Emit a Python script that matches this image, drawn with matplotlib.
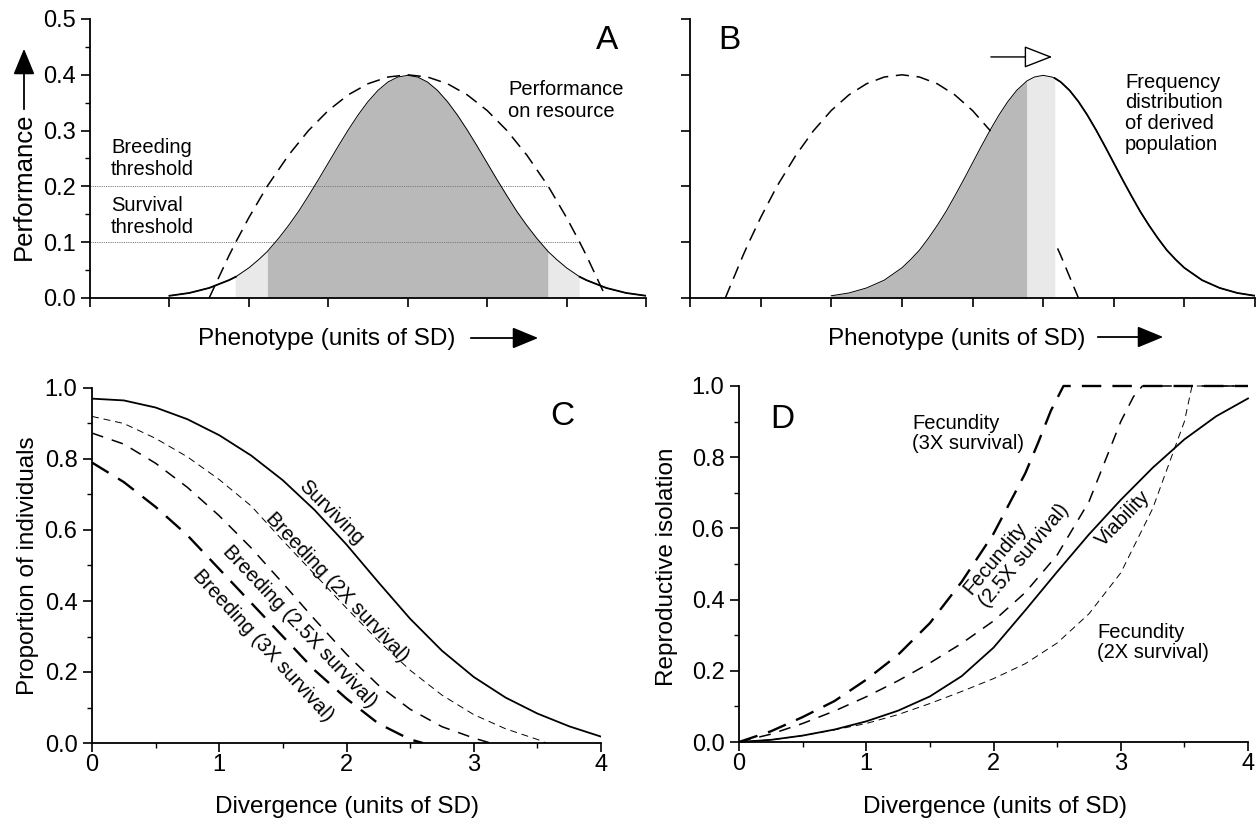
import numpy as np
import matplotlib
matplotlib.use("Agg")
import matplotlib.pyplot as plt
from matplotlib.ticker import MultipleLocator, FormatStrFormatter, NullFormatter
from matplotlib.patches import FancyArrowPatch

plt.rcParams['font.family'] = ['Liberation Sans', 'DejaVu Sans']
plt.rcParams['lines.scale_dashes'] = False

# ---- panels A and B : phenotype (units of SD) ----
phen = [-3, -2.75, -2.5, -2.25, -2.165, -2, -1.875, -1.77, -1.625, -1.5, -1.375, -1.25, -1.125, -1,
        -0.875, -0.75, -0.625, -0.5, -0.375, -0.25, -0.125, 0, 0.125, 0.25, 0.375, 0.5, 0.625, 0.75,
        0.875, 1, 1.125, 1.25, 1.375, 1.5, 1.625, 1.77, 1.875, 2, 2.165, 2.25, 2.5, 2.75, 3]
freq = [0.004, 0.009, 0.018, 0.032, 0.038, 0.054, 0.069, 0.083, 0.107, 0.130, 0.155, 0.183, 0.212, 0.242,
        0.272, 0.301, 0.328, 0.352, 0.372, 0.387, 0.396, 0.399, 0.396, 0.387, 0.372, 0.352, 0.328, 0.301,
        0.272, 0.242, 0.212, 0.183, 0.155, 0.130, 0.107, 0.083, 0.069, 0.054, 0.038, 0.032, 0.018, 0.009, 0.004]
perf_x = [-2.5, -2.25, -2.165, -2, -1.77, -1.5, -1.25, -1, -0.75, -0.5, -0.25, 0,
          0.25, 0.5, 0.75, 1, 1.25, 1.5, 1.77, 2, 2.165, 2.25, 2.5]
perf = [0, 0.076, 0.1, 0.144, 0.2, 0.256, 0.3, 0.336, 0.364, 0.384, 0.396, 0.4,
        0.396, 0.384, 0.364, 0.336, 0.3, 0.256, 0.2, 0.144, 0.1, 0.076, 0]
derived_x = [-1, -0.75, -0.5, -0.25, 0, 0.125, 0.25, 0.375, 0.5, 0.625, 0.75, 0.875, 1, 1.125,
             1.25, 1.375, 1.5, 1.625, 1.77, 1.875, 2, 2.125, 2.165, 2.25, 2.375, 2.5, 2.625, 2.75,
             2.875, 3, 3.125, 3.25, 3.375, 3.5, 3.625, 3.75, 3.875, 4, 4.25, 4.5, 4.75, 5]
derived_freq = [0.004, 0.009, 0.018, 0.032, 0.054, 0.069, 0.086, 0.107, 0.130, 0.155, 0.183, 0.212, 0.242, 0.272,
                0.301, 0.328, 0.352, 0.372, 0.389, 0.396, 0.399, 0.396, 0.394, 0.387, 0.372, 0.352, 0.328, 0.301,
                0.272, 0.242, 0.212, 0.183, 0.155, 0.130, 0.107, 0.086, 0.069, 0.054, 0.032, 0.018, 0.009, 0.004]
breed_thr, surv_thr = 0.2, 0.1
breed_lim, surv_lim = 1.77, 2.165

# ---- panel C : proportion of individuals vs divergence ----
div = [0, 0.25, 0.5, 0.75, 1, 1.25, 1.5, 1.75, 2, 2.25, 2.5, 2.75, 3, 3.25, 3.5, 3.75, 4]
surviving = [0.97, 0.965, 0.945, 0.912, 0.867, 0.81, 0.74, 0.656, 0.559, 0.453, 0.35, 0.26,
             0.186, 0.128, 0.083, 0.047, 0.018]
breed_2x_x = div[:15] + [3.57]
breed_2x = [0.92, 0.9, 0.858, 0.806, 0.742, 0.668, 0.57, 0.475, 0.38, 0.288, 0.205, 0.135,
            0.08, 0.04, 0.01, 0.0]
breed_25x_x = div[:13] + [3.13]
breed_25x = [0.873, 0.842, 0.788, 0.72, 0.64, 0.55, 0.45, 0.348, 0.25, 0.163, 0.095, 0.046, 0.014, 0.0]
breed_3x_x = div[:11] + [2.6]
breed_3x = [0.79, 0.735, 0.665, 0.585, 0.49, 0.395, 0.3, 0.205, 0.125, 0.055, 0.01, 0.0]

# ---- panel D : reproductive isolation vs divergence ----
viability = [0, 0.006, 0.018, 0.035, 0.058, 0.088, 0.128, 0.185, 0.265, 0.37, 0.478, 0.583,
             0.68, 0.77, 0.85, 0.915, 0.965]
fec_2x_x = div[:15] + [3.56, 4.0]
fec_2x = [0, 0.006, 0.018, 0.034, 0.052, 0.077, 0.108, 0.142, 0.178, 0.22, 0.278, 0.36,
          0.475, 0.655, 0.9, 1.0, 1.0]
fec_25x_x = div[:13] + [3.1, 3.17, 4.0]
fec_25x = [0, 0.022, 0.052, 0.087, 0.127, 0.172, 0.222, 0.277, 0.34, 0.42, 0.525, 0.675,
           0.9, 0.97, 1.0, 1.0]
fec_3x_x = div[:10] + [2.35, 2.45, 2.55, 4.0]
fec_3x = [0, 0.03, 0.07, 0.115, 0.175, 0.245, 0.334, 0.45, 0.585, 0.755, 0.84, 0.93, 1.0, 1.0]

W, H = 1256, 822
fig = plt.figure(figsize=(W / 100, H / 100), dpi=100)

DARK = '#b9b9b9'
LIGHT = '#e9e9e9'
LAB = 17.5
TICK = 17
NOTE = 14.5
LETTER = 24

S3 = dict(color='k', lw=1.7, ls=(0, (14, 8)))
S25 = dict(color='k', lw=1.1, ls=(0, (8.5, 6.5)))
S2 = dict(color='k', lw=0.7, ls=(0, (5, 3.5)))
SOLID = dict(color='k', lw=1.3)


def box(l, r, t, b):
    return [l / W, 1 - b / H, (r - l) / W, (b - t) / H]


def ftext(x, y, s, **kw):
    return fig.text(x / W, 1 - y / H, s, **kw)


def farrow(x0, y0, x1, y1, **kw):
    a = FancyArrowPatch((x0 / W, 1 - y0 / H), (x1 / W, 1 - y1 / H), transform=fig.transFigure,
                        arrowstyle='-|>,head_length=0.8,head_width=0.33', mutation_scale=20,
                        color='k', lw=1.3, **kw)
    fig.add_artist(a)


def style(ax):
    for s in ('top', 'right'):
        ax.spines[s].set_visible(False)
    for s in ('left', 'bottom'):
        ax.spines[s].set_linewidth(1.3)
    ax.tick_params(which='major', direction='out', length=6.5, width=1.2, labelsize=TICK)
    ax.tick_params(which='minor', direction='out', length=3.5, width=1.0)
    ax.tick_params(axis='y', pad=4)
    ax.tick_params(axis='x', pad=1.5)


axA = fig.add_axes(box(90, 646, 19, 298))
axB = fig.add_axes(box(690, 1255, 19, 298))
axC = fig.add_axes(box(92, 601, 388, 743))
axD = fig.add_axes(box(739, 1248, 386, 742))

# ---------------- A ----------------
ph = np.array(phen)
fr = np.array(freq)
axA.fill_between(ph, 0, fr, where=np.abs(ph) <= breed_lim, color=DARK, lw=0, zorder=1)
axA.fill_between(ph, 0, fr, where=(np.abs(ph) >= breed_lim) & (np.abs(ph) <= surv_lim),
                 color=LIGHT, lw=0, zorder=1)
axA.hlines([breed_thr, surv_thr], -4, [breed_lim, surv_lim], colors='#777777', lw=0.7,
           linestyles=[(0, (0.8, 0.8))], zorder=2)
axA.plot(ph, fr, color='k', lw=0.7, zorder=3)
tail = np.abs(ph) >= surv_lim
axA.plot(ph[tail & (ph < 0)], fr[tail & (ph < 0)], **SOLID, zorder=3)
axA.plot(ph[tail & (ph > 0)], fr[tail & (ph > 0)], **SOLID, zorder=3)
axA.plot(perf_x, perf, color='k', lw=1.1, ls=(0, (9.5, 5.5)), zorder=4)
axA.set_xlim(-4, 3)
axA.set_ylim(0, 0.5)
axA.xaxis.set_major_locator(MultipleLocator(1))
axA.xaxis.set_major_formatter(NullFormatter())
axA.yaxis.set_major_locator(MultipleLocator(0.1))
axA.yaxis.set_minor_locator(MultipleLocator(0.05))
axA.yaxis.set_major_formatter(FormatStrFormatter('%.1f'))
style(axA)

ftext(111, 138, 'Breeding\nthreshold', fontsize=NOTE, ha='left', va='top', linespacing=1.2)
ftext(111, 196, 'Survival\nthreshold', fontsize=NOTE, ha='left', va='top', linespacing=1.2)
ftext(508, 80, 'Performance\non resource', fontsize=NOTE, ha='left', va='top', linespacing=1.2)
ftext(607, 49, 'A', fontsize=LETTER, ha='center', va='baseline')

# ---------------- B ----------------
dx = np.array(derived_x)
dfq = np.array(derived_freq)
axB.plot(perf_x, perf, color='k', lw=1.1, ls=(0, (9.5, 5.5)), zorder=1)
axB.fill_between(dx, 0, dfq, where=dx <= breed_lim, color=DARK, lw=0, zorder=2)
axB.fill_between(dx, 0, dfq, where=(dx >= breed_lim) & (dx <= surv_lim), color=LIGHT, lw=0, zorder=2)
axB.plot(dx, dfq, color='k', lw=0.7, zorder=3)
axB.plot(dx[dx >= surv_lim], dfq[dx >= surv_lim], **SOLID, zorder=3)
axB.set_xlim(-3, 5)
axB.set_ylim(0, 0.5)
axB.xaxis.set_major_locator(MultipleLocator(1))
axB.xaxis.set_major_formatter(NullFormatter())
axB.yaxis.set_major_locator(MultipleLocator(0.1))
axB.yaxis.set_major_formatter(NullFormatter())
style(axB)
axB.annotate('', xy=(2.13, 0.432), xytext=(1.26, 0.432),
             arrowprops=dict(arrowstyle='-|>,head_length=0.9,head_width=0.35', mutation_scale=20,
                             fc='white', ec='k', lw=1.0, shrinkA=0, shrinkB=0))
ftext(1125, 73, 'Frequency\ndistribution\nof derived\npopulation', fontsize=NOTE, ha='left',
      va='top', linespacing=1.1)
ftext(729, 49, 'B', fontsize=LETTER, ha='center', va='baseline')

# axis titles for A and B
ftext(24, 186, 'Performance', fontsize=18.5, rotation=90, ha='center', va='center')
farrow(24, 112, 24, 46)
ftext(198, 345, 'Phenotype (units of SD)', fontsize=LAB, ha='left', va='baseline')
farrow(468, 338, 541, 338)
ftext(828, 345, 'Phenotype (units of SD)', fontsize=LAB, ha='left', va='baseline')
farrow(1095, 337, 1166, 337)

# ---------------- C ----------------
axC.plot(div, surviving, **SOLID)
axC.plot(breed_2x_x, breed_2x, **S2)
axC.plot(breed_25x_x, breed_25x, **S25)
axC.plot(breed_3x_x, breed_3x, **S3)
axC.set_xlim(0, 4)
axC.set_ylim(0, 1)
axC.xaxis.set_major_locator(MultipleLocator(1))
axC.xaxis.set_minor_locator(MultipleLocator(0.5))
axC.yaxis.set_major_locator(MultipleLocator(0.2))
axC.yaxis.set_minor_locator(MultipleLocator(0.1))
axC.yaxis.set_major_formatter(FormatStrFormatter('%.1f'))
style(axC)
rot = dict(fontsize=NOTE, ha='center', va='center', rotation_mode='anchor')
ftext(331, 513, 'Surviving', rotation=-45, **rot)
ftext(337, 587, 'Breeding (2X survival)', rotation=-46.5, **rot)
ftext(300, 627, 'Breeding (2.5X survival)', rotation=-46.7, **rot)
ftext(263, 646, 'Breeding (3X survival)', rotation=-47.5, **rot)
ftext(562, 425, 'C', fontsize=LETTER, ha='center', va='baseline')
ftext(28, 566, 'Proportion of individuals', fontsize=LAB, rotation=90, ha='center', va='center')
ftext(347, 813, 'Divergence (units of SD)', fontsize=LAB, ha='center', va='baseline')

# ---------------- D ----------------
axD.plot(div, viability, **SOLID, clip_on=False)
axD.plot(fec_2x_x, fec_2x, **S2, clip_on=False)
axD.plot(fec_25x_x, fec_25x, **S25, clip_on=False)
axD.plot(fec_3x_x, fec_3x, **S3, clip_on=False)
axD.set_xlim(0, 4)
axD.set_ylim(0, 1)
axD.xaxis.set_major_locator(MultipleLocator(1))
axD.xaxis.set_minor_locator(MultipleLocator(0.5))
axD.yaxis.set_major_locator(MultipleLocator(0.2))
axD.yaxis.set_minor_locator(MultipleLocator(0.1))
axD.yaxis.set_major_formatter(FormatStrFormatter('%.1f'))
style(axD)
ftext(912, 414, 'Fecundity\n(3X survival)', fontsize=NOTE, ha='left', va='top', linespacing=1.05)
ftext(1097, 623, 'Fecundity\n(2X survival)', fontsize=NOTE, ha='left', va='top', linespacing=1.05)
ftext(1016, 549, 'Fecundity\n(2.5X survival)', rotation=50, multialignment='left',
      linespacing=1.05, **rot)
ftext(1123, 518, 'Viability', rotation=46, **rot)
ftext(782, 428, 'D', fontsize=LETTER, ha='center', va='baseline')
ftext(667, 567, 'Reproductive isolation', fontsize=LAB, rotation=90, ha='center', va='center')
ftext(995, 813, 'Divergence (units of SD)', fontsize=LAB, ha='center', va='baseline')

fig.savefig('out.png', dpi=100)
